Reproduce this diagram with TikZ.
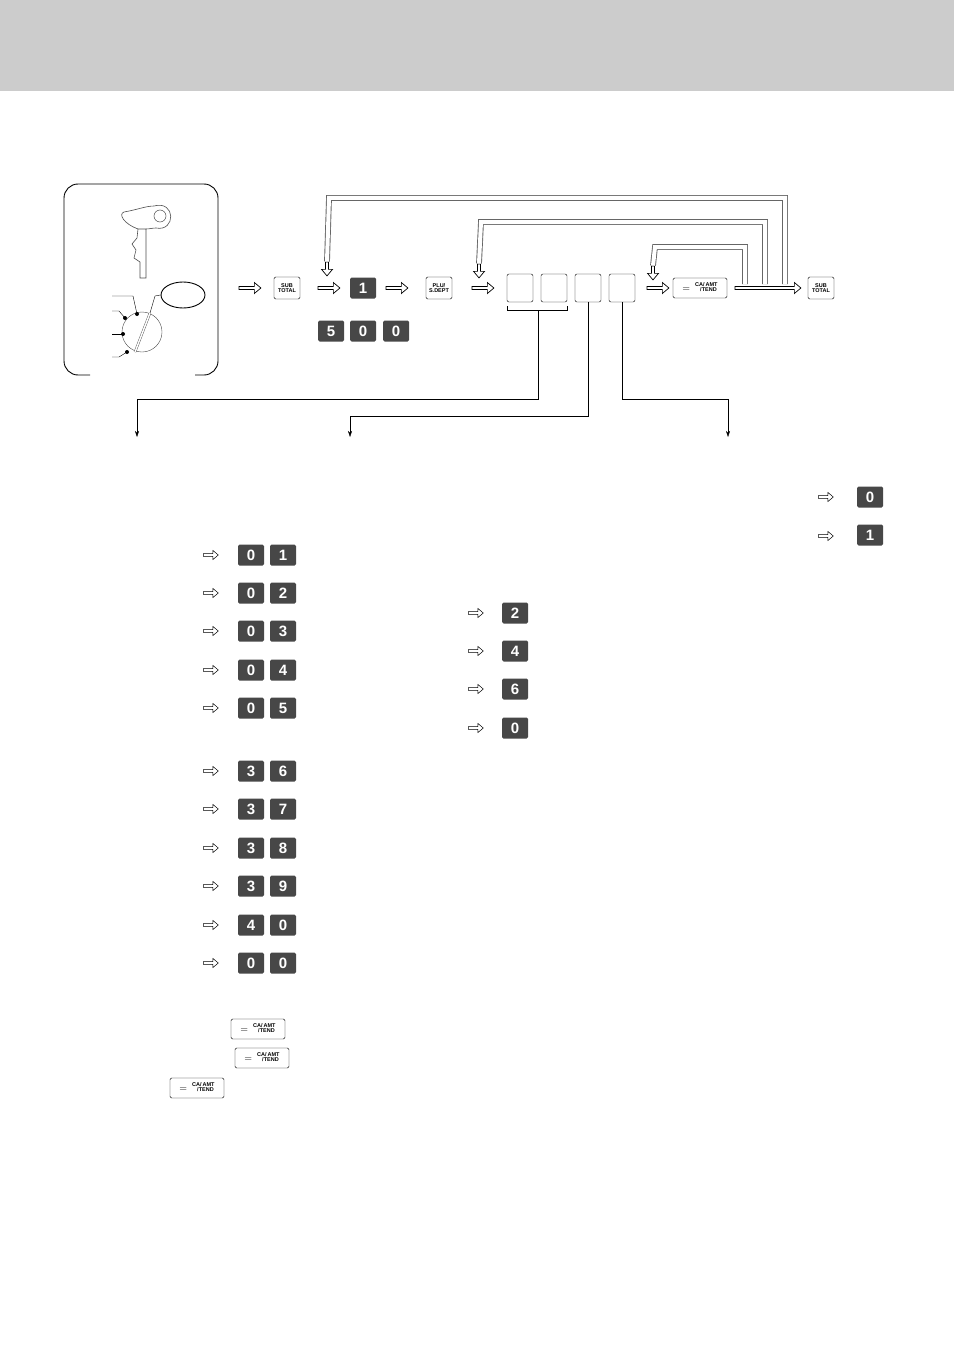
\documentclass[tikz,border=0pt]{standalone}
\usepackage{fontspec}
\setsansfont{Liberation Sans}
\usetikzlibrary{shapes.arrows,shapes.geometric,arrows.meta}
\tikzset{
  keycap/.style={draw, rounded corners=1.5pt, inner sep=0.8pt, font=\sffamily\bfseries\fontsize{5.5}{5.5}\selectfont, align=center, minimum width=26, minimum height=22},
  numkey/.style={fill=black!72, text=white, rounded corners=1.5pt, font=\sffamily\bfseries\fontsize{15}{15}\selectfont, minimum width=26, minimum height=21, inner sep=0pt},
  blank/.style={draw, rounded corners=2pt, minimum width=26, minimum height=28, inner sep=0pt},
  hollow/.style={single arrow, draw, line width=0.7pt, minimum height=22, minimum width=11, single arrow head extend=3, inner sep=0.8pt, single arrow tip angle=80},
  small/.style={hollow, minimum height=15, minimum width=9, line width=0.5pt, single arrow head extend=2.5},
  loop/.style={draw=black!60, double=white, double distance=4pt, line width=0.9pt},
}
\newcommand{\catend}{{\fontsize{10}{10}\selectfont$=$}\hspace{5pt}\begin{tabular}[b]{@{}l@{}}CA/\,AMT\\\hspace{5pt}/TEND\end{tabular}}
\begin{document}
\begin{tikzpicture}[x=1pt,y=-1pt]
  \useasboundingbox (0,0) rectangle (954,1351);
  \fill[black!20] (0,0) rectangle (954,91);

  % mode switch panel
  \draw[line width=0.9pt, rounded corners=14] (90,375) -| (64,184) -| (218,375) -- (195,375);
  \draw[black!70, line width=0.6pt] (140,278) -- (140,262) -- (134,258) -- (136,250) -- (132,244) -- (137,238) -- (138,229) -- (146,229) -- (146,278) -- cycle;
  \draw[black!70, line width=0.6pt] (138,229) .. controls (124,224) and (118,214) .. (124,212) .. controls (136,210) and (146,206) .. (154,206) .. controls (176,200) and (176,232) .. (156,228) .. controls (152,228) and (150,229) .. (146,229);
  \draw[black!70, line width=0.5pt] (160,216) circle (6);
  \node[draw, ellipse, minimum width=44, minimum height=26, line width=0.9pt] (pos) at (183,295) {};
  \draw[black!70] (142,332) circle (20);
  \draw[black!70, double=white, double distance=1.5pt] (135,352) -- (150,313);
  \foreach \px/\py in {137/314, 125/318, 123/334, 127/352}{
    \fill (\px,\py) circle (2);
  }
  \draw (112,296) -- (133,296) -- (137,314);
  \draw (112,311) -- (119,311) -- (125,318);
  \draw (112,334) -- (123,334);
  \draw (112,357) -- (119,357) -- (127,352);
  \draw (pos.west) -- (155,296) -- (150,313);

  % main key sequence
  \node[hollow] (a1) at (249,288) {};
  \node[keycap] (sub1) at (287,288) {SUB\\TOTAL};
  \node[hollow] (a2) at (328,288) {};
  \node[numkey] (one) at (363,288) {1};
  \node[hollow] (a3) at (396,288) {};
  \node[keycap] (plu) at (439,288) {PLU/\\S.DEPT};
  \node[hollow] (a4) at (482,288) {};
  \node[blank] (b1) at (520,288) {};
  \node[blank] (b2) at (554,288) {};
  \node[blank] (b3) at (588,288) {};
  \node[blank] (b4) at (622,288) {};
  \node[hollow] (a5) at (657,288) {};
  \node[keycap, minimum width=54, minimum height=20] (ca) at (700,288) {\catend};
  \node[hollow, minimum height=66] (a6) at (767,288) {};
  \node[keycap] (sub2) at (821,288) {SUB\\TOTAL};
  \node[numkey] (k5) at (331,331) {5};
  \node[numkey] (k0a) at (363,331) {0};
  \node[numkey] (k0b) at (396,331) {0};

  % repeat loops
  \node[hollow, rotate=-90, minimum height=14] (d1) at (327,268) {};
  \node[hollow, rotate=-90, minimum height=14] (d2) at (479,270) {};
  \node[hollow, rotate=-90, minimum height=14] (d3) at (653,272) {};
  \draw[loop] (785,284) |- (329,198) -- (d1.west);
  \draw[loop] (765,284) |- (481,222) -- (d2.west);
  \draw[loop] (745,284) |- (655,247) -- (d3.west);

  % branches
  \draw (507,306) -- (507,310) -- (567,310) -- (567,306);
  \draw[-{Stealth[length=6pt,width=4pt]}] (538,310) |- (137,399) -- (137,437);
  \draw[-{Stealth[length=6pt,width=4pt]}] (b3.south) |- (350,416) -- (350,437);
  \draw[-{Stealth[length=6pt,width=4pt]}] (b4.south) |- (728,399) -- (728,437);

  % right column
  \node[small] (r1) at (825,497) {};
  \node[numkey] (rk0) at (870,497) {0};
  \node[small] (r2) at (825,536) {};
  \node[numkey] (rk1) at (870,535) {1};

  % left column
  \foreach \y/\da/\db in {555/0/1, 593/0/2, 631/0/3, 670/0/4, 708/0/5, 771/3/6, 809/3/7, 848/3/8, 886/3/9, 925/4/0, 963/0/0}{
    \node[small] (la\y) at (210,\y) {};
    \node[numkey] (lk\y) at (251,\y) {\da};
    \node[numkey] (lm\y) at (283,\y) {\db};
  }

  % middle column
  \foreach \y/\d in {613/2, 651/4, 689/6, 728/0}{
    \node[small] (ma\y) at (475,\y) {};
    \node[numkey] (mk\y) at (515,\y) {\d};
  }

  % tender keys
  \node[keycap, minimum width=54, minimum height=20] (ca1) at (258,1029) {\catend};
  \node[keycap, minimum width=54, minimum height=20] (ca2) at (262,1058) {\catend};
  \node[keycap, minimum width=54, minimum height=20] (ca3) at (197,1088) {\catend};
\end{tikzpicture}
\end{document}
